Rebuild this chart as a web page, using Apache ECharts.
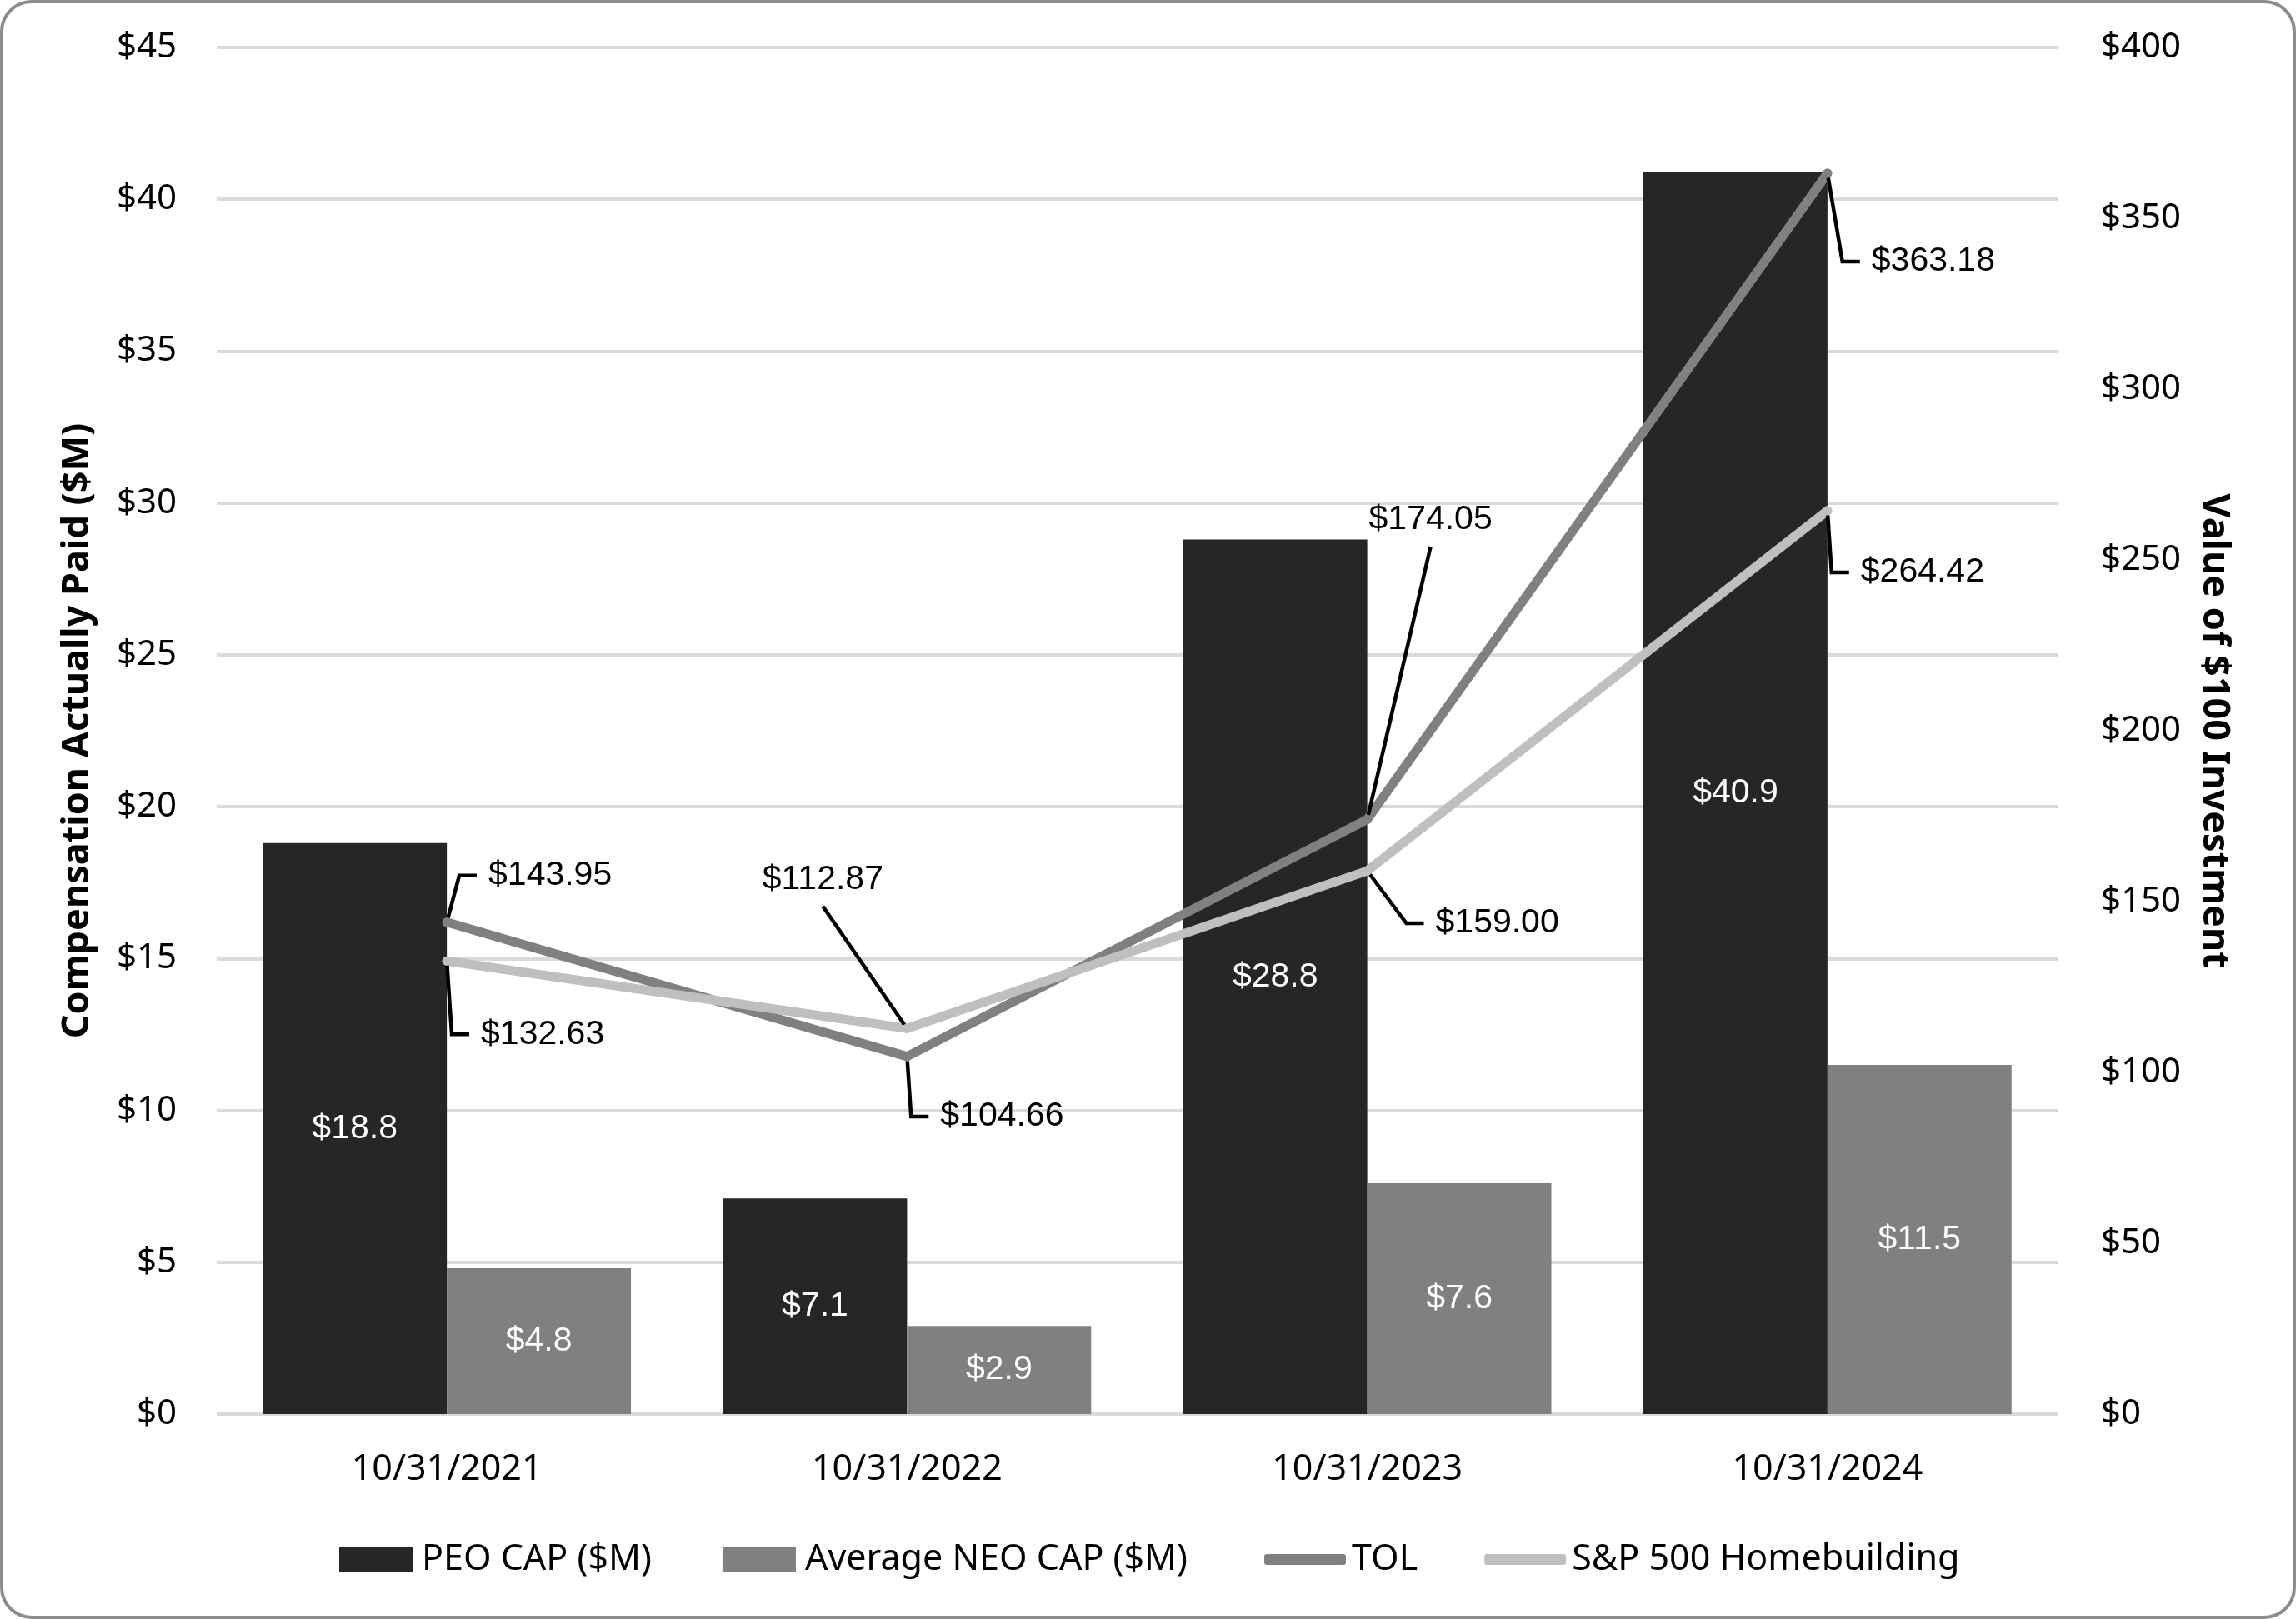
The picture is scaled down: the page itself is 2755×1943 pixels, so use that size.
<!DOCTYPE html>
<html><head><meta charset="utf-8">
<script src="https://cdn.jsdelivr.net/npm/echarts@6/dist/echarts.min.js"></script>
<style>html,body{margin:0;padding:0;background:#fff}#c{width:2755px;height:1943px}</style>
</head><body><div id="c"></div>
<script>
// ---- data ----
const categories = ['10/31/2021', '10/31/2022', '10/31/2023', '10/31/2024'];
const peoCap = [18.8, 7.1, 28.8, 40.9];
const neoCap = [4.8, 2.9, 7.6, 11.5];
const tol = [143.95, 104.66, 174.05, 363.18];
const spHomebuilding = [132.63, 112.87, 159.00, 264.42];
const leftAxisTicks = [0, 5, 10, 15, 20, 25, 30, 35, 40, 45];
const rightAxisTicks = [0, 50, 100, 150, 200, 250, 300, 350, 400];

// ---- label placement (styling only: offsets of line labels from their points, px) ----
const tolLabelOffsets = [[124, -56], [114, 72], [76, -360], [127, 106]];
const spLabelOffsets = [[115, 88], [-101, -179], [156, 63], [114, 74]];
const tolLeaderElbow = [21, 21, 0, 21];
const spLeaderElbow = [21, 0, 21, 21];

const SANS = 'Noto Sans';
const ARIAL = 'Liberation Sans';

function placeLabel(offsets) {
  return function (p) {
    const o = offsets[p.dataIndex];
    return {
      x: p.rect.x + p.rect.width / 2 + o[0],
      y: p.rect.y + p.rect.height / 2 + o[1],
      align: 'center',
      verticalAlign: 'middle'
    };
  };
}
function withLeaders(values, elbows) {
  return values.map((v, i) => ({ value: v, labelLine: { length2: elbows[i] } }));
}

const lineLabel = {
  show: true, color: '#000', fontSize: 41, fontFamily: ARIAL,
  padding: [12, 14], backgroundColor: 'rgba(255,255,255,0)',
  formatter: p => '$' + p.value.toFixed(2)
};
const lineLeader = { show: true, length2: 21, minTurnAngle: 0, lineStyle: { color: '#000', width: 4.5 } };

const chart = echarts.init(document.getElementById('c'), null, { renderer: 'canvas' });
chart.setOption({
  animation: false,
  backgroundColor: '#ffffff',
  graphic: [{
    type: 'rect', silent: true, z: -10,
    shape: { x: 2, y: 2, width: 2751, height: 1939, r: 36 },
    style: { fill: 'none', stroke: '#8c8c8c', lineWidth: 4 }
  }],
  grid: { left: 260, right: 286, top: 57, bottom: 246, containLabel: false },
  legend: [{
    data: ['PEO CAP ($M)', 'Average NEO CAP ($M)'],
    left: 402, top: 1845,
    itemWidth: 88, itemHeight: 29, itemGap: 85,
    icon: 'rect',
    itemStyle: { borderWidth: 0 },
    textStyle: { fontSize: 43, fontFamily: SANS, color: '#000', padding: [0, 0, 0, 6] }
  }, {
    data: [{ name: 'TOL', icon: 'roundRect' }, { name: 'S&P 500 Homebuilding', icon: 'roundRect' }],
    left: 1512, top: 1845,
    itemWidth: 98, itemHeight: 13, itemGap: 80,
    itemStyle: { borderWidth: 0 },
    textStyle: { fontSize: 43, fontFamily: SANS, color: '#000', padding: [0, 0, 0, 2] }
  }],
  xAxis: {
    type: 'category',
    data: categories,
    axisLine: { show: false },
    axisTick: { show: false },
    axisLabel: { fontSize: 43, fontFamily: SANS, color: '#000', margin: 45 }
  },
  yAxis: [{
    type: 'value',
    min: leftAxisTicks[0], max: leftAxisTicks[leftAxisTicks.length - 1],
    interval: leftAxisTicks[1] - leftAxisTicks[0],
    name: 'Compensation Actually Paid ($M)',
    nameLocation: 'middle', nameGap: 144, nameRotate: 90,
    nameTextStyle: { fontSize: 45, fontWeight: 'bold', fontFamily: SANS, color: '#000' },
    axisLine: { show: false }, axisTick: { show: false },
    axisLabel: { fontSize: 42, fontFamily: SANS, color: '#000', margin: 48, formatter: v => '$' + v },
    splitLine: { lineStyle: { color: '#d9d9d9', width: 4 } }
  }, {
    type: 'value',
    min: rightAxisTicks[0], max: rightAxisTicks[rightAxisTicks.length - 1],
    interval: rightAxisTicks[1] - rightAxisTicks[0],
    name: 'Value of $100 Investment',
    nameLocation: 'middle', nameGap: 165, nameRotate: -90,
    nameTextStyle: { fontSize: 45, fontWeight: 'bold', fontFamily: SANS, color: '#000' },
    axisLine: { show: false }, axisTick: { show: false },
    axisLabel: { fontSize: 42, fontFamily: SANS, color: '#000', margin: 52, formatter: v => '$' + v },
    splitLine: { show: false }
  }],
  series: [{
    name: 'PEO CAP ($M)', type: 'bar', yAxisIndex: 0, data: peoCap,
    barGap: '0%', barCategoryGap: '20%',
    itemStyle: { color: '#262626' },
    label: { show: true, position: 'inside', color: '#fff', fontSize: 41, fontFamily: ARIAL,
      formatter: p => '$' + p.value.toFixed(1) }
  }, {
    name: 'Average NEO CAP ($M)', type: 'bar', yAxisIndex: 0, data: neoCap,
    barGap: '0%', barCategoryGap: '20%',
    itemStyle: { color: '#808080' },
    label: { show: true, position: 'inside', color: '#fff', fontSize: 41, fontFamily: ARIAL,
      formatter: p => '$' + p.value.toFixed(1) }
  }, {
    name: 'TOL', type: 'line', yAxisIndex: 1, data: withLeaders(tol, tolLeaderElbow),
    symbol: 'circle', symbolSize: 11, z: 5,
    itemStyle: { color: '#808080' },
    lineStyle: { color: '#808080', width: 11, cap: 'round', join: 'round' },
    label: lineLabel,
    labelLine: lineLeader,
    labelLayout: placeLabel(tolLabelOffsets)
  }, {
    name: 'S&P 500 Homebuilding', type: 'line', yAxisIndex: 1, data: withLeaders(spHomebuilding, spLeaderElbow),
    symbol: 'circle', symbolSize: 11, z: 6,
    itemStyle: { color: '#bfbfbf' },
    lineStyle: { color: '#bfbfbf', width: 11, cap: 'round', join: 'round' },
    label: lineLabel,
    labelLine: lineLeader,
    labelLayout: placeLabel(spLabelOffsets)
  }]
});
</script></body></html>
